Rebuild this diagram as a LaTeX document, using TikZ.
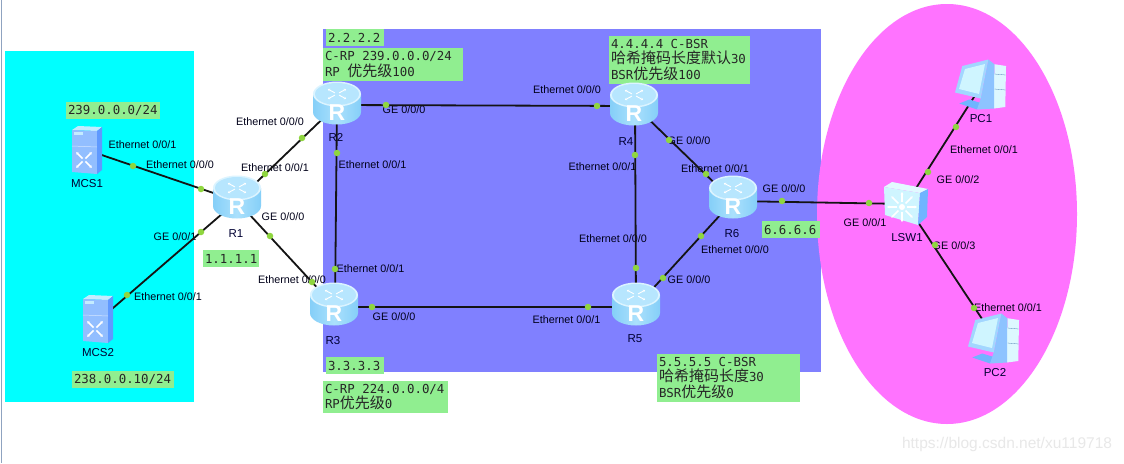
\documentclass[tikz,border=0pt]{standalone}
\usepackage{fontspec}
\setmainfont{Liberation Sans}
\newfontfamily\ipfont{DejaVu Sans Mono}
\newfontfamily\cjkfont{Noto Sans CJK SC}
\newfontfamily\routerfont{Liberation Sans}
\usetikzlibrary{arrows.meta,calc}
\definecolor{labelgreen}{HTML}{90EE90}
\definecolor{dotgreen}{HTML}{8FD63F}
\definecolor{zonecyan}{HTML}{00FFFF}
\definecolor{zonepurple}{HTML}{8080FF}
\definecolor{zonepink}{HTML}{FF73FF}
\definecolor{edgeline}{HTML}{8FA3C0}
\definecolor{iconlight}{HTML}{C4ECFF}
\definecolor{iconmid}{HTML}{85CFF8}
\definecolor{iconblue}{HTML}{70B4FF}
\definecolor{iconpale}{HTML}{CFF5FF}
\definecolor{serverblue}{HTML}{92BEFF}
\newcommand\zh[1]{{\cjkfont\fontsize{15}{15.5}\selectfont #1}}
\tikzset{
  anchorpoint/.style={inner sep=0pt,minimum size=1pt},
  link/.style={draw=black!92,line width=1.8pt},
  portdot/.style={circle,fill=dotgreen,inner sep=0pt,minimum size=6.5pt},
  portlabel/.style={font=\fontsize{10.8}{12}\selectfont,inner sep=0pt,text=black!90!blue},
  devlabel/.style={font=\fontsize{11.5}{12}\selectfont,inner sep=0pt,text=black!80!blue},
  iconarrow/.style={white,line width=1.1pt,-{Stealth[length=2.4pt,width=3pt]}},
}
% #1 name, #2 x1, #3 y1, #4 x2, #5 y2, #6 text
\newcommand\greenbox[6]{%
  \pgfmathsetmacro\bw{#4-#2}\pgfmathsetmacro\bh{#5-#3}%
  \pgfmathsetmacro\tw{#4-#2-4}%
  \node[fill=labelgreen,inner xsep=2pt,inner ysep=0pt,minimum width=\bw pt,minimum height=\bh pt,
        text width=\tw pt,align=left,font=\ipfont\fontsize{12.4}{15.5}\selectfont,text=black!85,
        execute at begin node={\spaceskip=7.46pt\relax}]
        (#1) at ({(#2+#4)/2},{(#3+#5)/2}) {#6};}
\newcommand\routericon[1]{%
  \begin{scope}[shift={(#1)}]
    \path[left color=iconmid,right color=iconmid,middle color=iconlight!60!iconmid]
      (-24,-9) -- (-24,9) arc[start angle=180,end angle=0,x radius=24,y radius=12.5] -- (24,-9) -- cycle;
    \fill[white!40!iconlight] (0,-9) ellipse[x radius=24,y radius=12.5];
    \fill[iconlight!80!iconmid] (0,-9) ellipse[x radius=22,y radius=11];
    \foreach \a in {45,135,225,315}
      \draw[iconarrow,line width=.9pt] ({3*cos(\a)},{-9+1.6*sin(\a)}) -- ({13*cos(\a)},{-9+7*sin(\a)});
    \node[white,font=\routerfont\bfseries\fontsize{23}{23}\selectfont,inner sep=0pt] at (0,10) {R};
  \end{scope}}
\newcommand\servericon[1]{%
  \begin{scope}[shift={(#1)}]
    \fill[iconlight] (-15,-20) -- (-9,-24) -- (15,-23) -- (10,-19) -- cycle;
    \fill[serverblue] (-15,-20) -- (10,-19) -- (10,24) -- (-15,22) -- cycle;
    \fill[iconblue!85!blue] (10,-19) -- (15,-23) -- (15,20) -- (10,24) -- cycle;
    \fill[iconlight] (-13,-18) rectangle (-4,-15);
    \draw[white!60!serverblue,line width=.5pt] (-15,-4) -- (10,-3);
    \foreach \a in {45,135,225,315}
      \draw[iconarrow,line width=1.6pt] ($(-3,10)+(\a:2)$) -- ($(-3,10)+(\a:11)$);
  \end{scope}}
\newcommand\switchicon[1]{%
  \begin{scope}[shift={(#1)}]
    \fill[iconpale!60!white] (-22,-17) -- (-14,-22) -- (22,-15) -- (14,-11) -- cycle;
    \fill[iconpale] (-22,-17) -- (14,-11) -- (12,21) -- (-21,11) -- cycle;
    \fill[iconblue] (14,-11) -- (22,-15) -- (21,13) -- (12,21) -- cycle;
    \foreach \a in {0,45,...,315}
      \draw[iconarrow,line width=1.5pt] ($(-4,3)+(\a:5)$) -- ($(-4,3)+(\a:15)$);
    \fill[white] (-4,3) circle (3);
  \end{scope}}
\newcommand\pcicon[1]{%
  \begin{scope}[shift={(#1)}]
    \fill[iconblue] (-21.7,19.5) -- (-11.7,15.5) -- (-0.3,19) -- (-4,25.5) -- cycle;
    \fill[iconpale!70!white] (13.3,-19.8) -- (25,-18) -- (24.3,23) -- (13,24.5) -- cycle;
    \fill[iconblue!80!white] (7.3,-24.5) -- (13.3,-19.8) -- (13,24.5) -- (-4,25.5) -- (-0.3,14.5) -- cycle;
    \fill[iconlight!60!iconblue] (-26,8.5) -- (-18.7,-18) -- (7.3,-24.5) -- (-0.3,14.5) -- cycle;
    \fill[iconpale] (-22,5) -- (-16,-15) -- (4,-20) -- (-2,10) -- cycle;
    \draw[iconblue!70!black,line width=.3pt] (13.5,-10) -- (24.5,-9) (13.5,5) -- (24.5,6);
  \end{scope}}
\begin{document}
\begin{tikzpicture}[x=1pt,y=-1pt]
\useasboundingbox (0,0) rectangle (1124,463);
\fill[white] (0,0) rectangle (1124,463);
% screenshot edge
\draw[edgeline,line width=1pt] (1.5,0) -- (1.5,463);
% zones
\fill[zonecyan] (4.5,50.5) rectangle (194,402);
\fill[zonepurple] (323,29) rectangle (821,372);
\fill[zonepink] (947,214) ellipse[x radius=130,y radius=210];
% device anchors
\node[anchorpoint] (MCS1) at (87,150) {};
\node[anchorpoint] (MCS2) at (98,321) {};
\node[anchorpoint] (R1) at (237,201) {};
\node[anchorpoint] (R2) at (337,105) {};
\node[anchorpoint] (R3) at (335,307) {};
\node[anchorpoint] (R4) at (635,106) {};
\node[anchorpoint] (R5) at (636,307) {};
\node[anchorpoint] (R6) at (733,201) {};
\node[anchorpoint] (LSW1) at (906,204) {};
\node[anchorpoint] (PC1) at (981,86) {};
\node[anchorpoint] (PC2) at (994,337) {};
% green labels
\greenbox{a1}{66}{102}{160}{119}{239.0.0.0/24}
\greenbox{a2}{203}{250}{259}{267}{1.1.1.1}
\greenbox{a3}{72}{371}{174}{388}{238.0.0.10/24}
\greenbox{a4}{326}{29}{384}{46}{2.2.2.2}
\greenbox{a5}{323}{48}{463}{81}{C-RP 239.0.0.0/24\\RP \zh{优先级}100}
\greenbox{a6}{609}{36}{750}{84}{4.4.4.4 C-BSR\\\zh{哈希掩码长度默认}30\\BSR\zh{优先级}100}
\greenbox{a7}{326}{357}{384}{374}{3.3.3.3}
\greenbox{a8}{323}{381}{448}{413}{C-RP 224.0.0.0/4\\RP\zh{优先级}0}
\greenbox{a9}{657}{354}{800}{402}{5.5.5.5 C-BSR\\\zh{哈希掩码长度}30\\BSR\zh{优先级}0}
\greenbox{a10}{762}{221}{820}{238}{6.6.6.6}
% port labels
\node[portlabel] (l1) at (142.5,145) {Ethernet 0/0/1};
\node[portlabel] (l2) at (180,165) {Ethernet 0/0/0};
\node[portlabel] (l3) at (270,122) {Ethernet 0/0/0};
\node[portlabel] (l4) at (275,168) {Ethernet 0/0/1};
\node[portlabel] (l5) at (283,217) {GE 0/0/0};
\node[portlabel] (l6) at (175,237) {GE 0/0/1};
\node[portlabel] (l7) at (168,297) {Ethernet 0/0/1};
\node[portlabel] (l8) at (292,280) {Ethernet 0/0/0};
\node[portlabel] (l9) at (404,110) {GE 0/0/0};
\node[portlabel] (l10) at (372.5,165) {Ethernet 0/0/1};
\node[portlabel] (l11) at (567,90) {Ethernet 0/0/0};
\node[portlabel] (l12) at (602.5,167) {Ethernet 0/0/1};
\node[portlabel] (l13) at (689,141) {GE 0/0/0};
\node[portlabel] (l14) at (715,169) {Ethernet 0/0/1};
\node[portlabel] (l15) at (784,189) {GE 0/0/0};
\node[portlabel] (l16) at (735,250) {Ethernet 0/0/0};
\node[portlabel] (l17) at (865,223) {GE 0/0/1};
\node[portlabel] (l18) at (613,239) {Ethernet 0/0/0};
\node[portlabel] (l19) at (689,280) {GE 0/0/0};
\node[portlabel] (l20) at (370.5,269) {Ethernet 0/0/1};
\node[portlabel] (l21) at (394,317) {GE 0/0/0};
\node[portlabel] (l22) at (566.5,320) {Ethernet 0/0/1};
\node[portlabel] (l23) at (984,150) {Ethernet 0/0/1};
\node[portlabel] (l24) at (958,180) {GE 0/0/2};
\node[portlabel] (l25) at (954,246) {GE 0/0/3};
\node[portlabel] (l26) at (1008,308) {Ethernet 0/0/1};
% device labels
\node[devlabel] (n1) at (87,184) {MCS1};
\node[devlabel] (n2) at (98,353) {MCS2};
\node[devlabel] (n3) at (236,234) {R1};
\node[devlabel] (n4) at (336,137) {R2};
\node[devlabel] (n5) at (333,341) {R3};
\node[devlabel] (n6) at (626,142) {R4};
\node[devlabel] (n7) at (635,339) {R5};
\node[devlabel] (n8) at (732,234) {R6};
\node[devlabel] (n9) at (907,238) {LSW1};
\node[devlabel] (n10) at (981,119) {PC1};
\node[devlabel] (n11) at (995,373) {PC2};
% connectors
\draw[link] (MCS1) -- (R1);
\draw[link] (MCS2) -- (R1);
\draw[link] (R1) -- (R2);
\draw[link] (R1) -- (R3);
\draw[link] (R2) -- (R3);
\draw[link] (R2) -- (R4);
\draw[link] (R3) -- (R5);
\draw[link] (R4) -- (R5);
\draw[link] (R4) -- (R6);
\draw[link] (R5) -- (R6);
\draw[link] (R6) -- (LSW1);
\draw[link] (LSW1) -- (PC1);
\draw[link] (LSW1) -- (PC2);
% port dots
\foreach \n/\x/\y in {1/133/166,2/201/189,3/265/174,4/302/138,5/201/232,6/127/295,7/270/236,8/312/282,
  9/386/105,10/597/106,11/337/153,12/335/269,13/635/155,14/636/268,15/372/307,16/588/307,
  17/669/140,18/706/174,19/663/278,20/701/236,21/782/201,22/869/203,23/928/172,24/956/127,25/935/245,26/974/308}
  {\node[portdot] (p\n) at (\x,\y) {};}
% icons
\servericon{87,150}
\servericon{98,319}
\routericon{237,197}
\routericon{337,103}
\routericon{334,304}
\routericon{634,104}
\routericon{636,304}
\routericon{733,197}
\switchicon{906,204}
\pcicon{981,84}
\pcicon{994,338}
% watermark
\node[font=\fontsize{15.5}{15}\selectfont,text=black!9,inner sep=0pt] (wm) at (1007,444) {https://blog.csdn.net/xu119718};
\end{tikzpicture}
\end{document}
